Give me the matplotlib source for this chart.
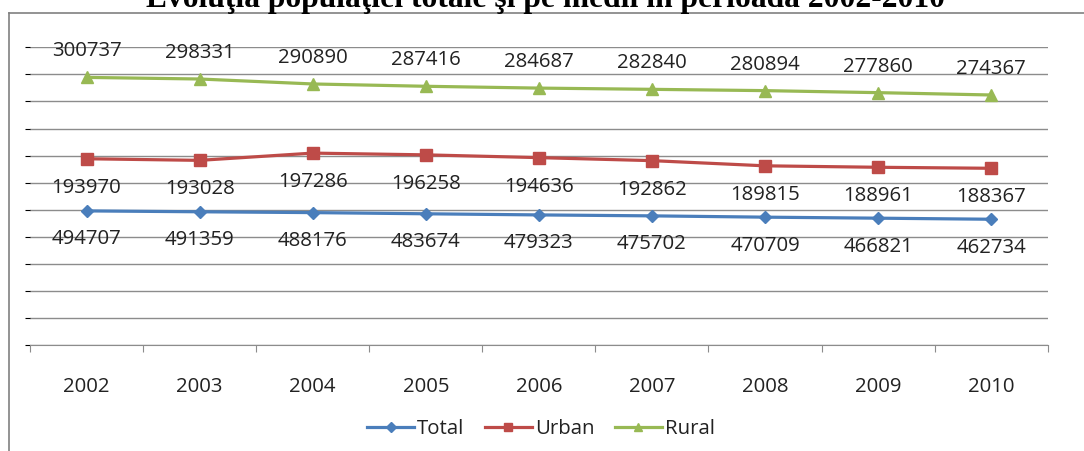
import numpy as np
import matplotlib
matplotlib.use("Agg")
import matplotlib.pyplot as plt
from matplotlib.lines import Line2D

plt.rcParams['font.family'] = ['Open Sans', 'DejaVu Sans']

years = ["2002", "2003", "2004", "2005", "2006", "2007", "2008", "2009", "2010"]
total = [494707, 491359, 488176, 483674, 479323, 475702, 470709, 466821, 462734]
urban = [193970, 193028, 197286, 196258, 194636, 192862, 189815, 188961, 188367]
rural = [300737, 298331, 290890, 287416, 284687, 282840, 280894, 277860, 274367]

title = "Evoluţia populaţiei totale şi pe medii în perioada 2002-2010"

# each series sits on its own hidden scale (the source chart has no value axis)
# (first point fraction, last point fraction) of the plot height
bands = {"Total": (0.451, 0.423), "Urban": (0.626, 0.594), "Rural": (0.899, 0.840)}

C_TOTAL = "#4A7EBB"
C_URBAN = "#BE4B48"
C_RURAL = "#98B954"
GRID = "#8C8C8C"
TXT = "#222222"

fig = plt.figure(figsize=(10.84, 4.51), dpi=100)
W, H = 1084, 451
ax = fig.add_axes([30 / W, (H - 345.3) / H, 1017.7 / W, 298 / H])

x = np.arange(len(years))
ax.set_xlim(-0.5, len(years) - 0.5)
ax.set_ylim(0, 11)
ax.set_yticks(np.arange(0, 12))
ax.yaxis.grid(True, color=GRID, linewidth=1.0)
ax.tick_params(axis='y', left=False, labelleft=False)
for s in ["left", "right", "top"]:
    ax.spines[s].set_visible(False)
ax.spines["bottom"].set_color(GRID)
ax.set_xticks(np.arange(-0.5, len(years)), labels=[])
ax.set_xticks(x, labels=years, minor=True)
ax.tick_params(axis='x', which='major', direction='out', length=5, color=GRID)
ax.tick_params(axis='x', which='minor', length=0, pad=22.5, labelsize=14.7, labelcolor=TXT)


def fit_limits(vals, f0, f1):
    span = (vals[0] - vals[-1]) / (f0 - f1)
    lo = vals[0] - f0 * span
    return lo, lo + span


handles = []
series = [("Total", total, C_TOTAL, "D", 6, -28.5),
          ("Urban", urban, C_URBAN, "s", 8, -29),
          ("Rural", rural, C_RURAL, "^", 8, 26)]
for name, vals, col, mk, ms, dy in series:
    tw = ax.twinx()
    tw.set_ylim(*fit_limits(vals, *bands[name]))
    tw.axis("off")
    ln, = tw.plot(x, vals, color=col, linewidth=2.3, marker=mk, markersize=ms,
                  markeredgecolor=col, markerfacecolor=col, solid_capstyle='round')
    handles.append(ln)
    for xi, v in zip(x, vals):
        tw.annotate(str(v), (xi, v), xytext=(0, dy), textcoords='offset pixels',
                    ha='center', va='center', fontsize=14.7, color=TXT)

leg_handles = [Line2D([], [], color=h.get_color(), linewidth=2.3, marker=h.get_marker(),
                      markersize=h.get_markersize() * 0.8, markeredgecolor=h.get_color())
               for h in handles]
fig.legend(leg_handles, ["Total", "Urban", "Rural"], loc='center',
           bbox_to_anchor=(541 / W, (H - 429) / H), ncol=3, frameon=False,
           fontsize=14.7, handlelength=2.3, handletextpad=0.15, columnspacing=1.0,
           labelcolor=TXT)

# outer chart frame (only top and left edges are visible in the crop)
fig.add_artist(Line2D([8.5 / W, 8.5 / W], [0, (H - 12.7) / H], color="#808080", linewidth=1.2))
fig.add_artist(Line2D([8.5 / W, 1], [(H - 12.7) / H, (H - 12.7) / H], color="#808080", linewidth=1.2))

# the title is clipped by the top edge in the source image
fig.text(545 / W, (H - 7.5) / H, title, ha='center', va='baseline',
         fontsize=22.7, fontweight='bold', family='Liberation Serif')

plt.savefig("out.png", dpi=100)
